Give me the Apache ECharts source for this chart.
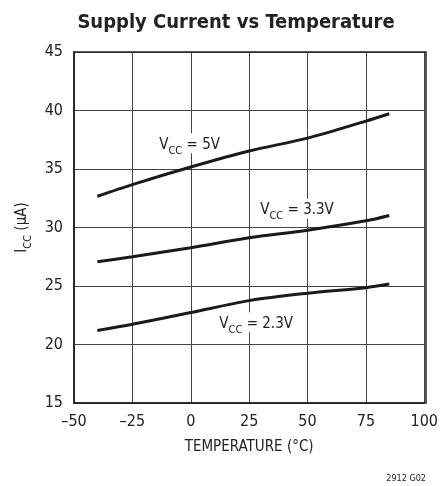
<!DOCTYPE html>
<html>
<head>
<meta charset="utf-8">
<script src="https://cdn.jsdelivr.net/npm/echarts@6/dist/echarts.min.js"></script>
<style>
html,body{margin:0;padding:0;background:#fff;}
#c{width:441px;height:486px;}
</style>
</head>
<body>
<div id="c"></div>
<script>
var temps = [-40, -25, 0, 25, 50, 75, 85];
var vcc5 = [32.67, 33.67, 35.17, 36.54, 37.64, 39.09, 39.72];
var vcc33 = [27.07, 27.5, 28.27, 29.12, 29.77, 30.57, 31.03];
var vcc23 = [21.2, 21.73, 22.73, 23.75, 24.38, 24.86, 25.17];
var xTicks = [-50, -25, 0, 25, 50, 75, 100];
var yTicks = [15, 20, 25, 30, 35, 40, 45];
var labels = [
  {name: '5V', at: [-0.5, 37.2]},
  {name: '3.3V', at: [45.5, 31.6]},
  {name: '2.3V', at: [28, 21.9]}
];

var FONT = '"DejaVu Sans Condensed", "Liberation Sans Narrow", sans-serif';

function pairs(ys){ return temps.map(function(t,i){ return [t, ys[i]]; }); }

var richSub = {
  a: {fontFamily: FONT, fontSize: 15, color: '#222', lineHeight: 18, verticalAlign: 'bottom'},
  b: {fontFamily: FONT, fontSize: 11, color: '#222', lineHeight: 12, verticalAlign: 'bottom', padding: [0,0,-4,0]}
};

function labelPoint(l){
  return {
    coord: l.at,
    symbol: 'rect',
    symbolSize: 1,
    itemStyle: {color: 'rgba(0,0,0,0)'},
    label: {
      show: true,
      position: 'inside',
      formatter: '{a|V}{b|CC}{a| = ' + l.name + '}',
      backgroundColor: '#fff',
      padding: [1, 2],
      rich: richSub
    }
  };
}

var seriesData = [vcc5, vcc33, vcc23];
var series = seriesData.map(function(ys, i){
  return {
    type: 'line',
    data: pairs(ys),
    smooth: 0.3,
    showSymbol: false,
    lineStyle: {color: '#1a1a1a', width: 3},
    z: 3,
    markPoint: {
      silent: true,
      data: [labelPoint(labels[i])],
      z: 5
    }
  };
});

var chart = echarts.init(document.getElementById('c'));
chart.setOption({
  animation: false,
  backgroundColor: '#fff',
  title: {
    text: 'Supply Current vs Temperature',
    left: 231, top: 8, textAlign: 'center',
    textStyle: {fontFamily: FONT, fontWeight: 'bold', fontSize: 20, color: '#222'}
  },
  grid: {left: 74, right: 15, top: 52, bottom: 83},
  xAxis: {
    type: 'value', min: -50, max: 100, interval: 25,
    name: 'TEMPERATURE (°C)', nameLocation: 'middle', nameGap: 37,
    nameTextStyle: {fontFamily: FONT, fontSize: 15, color: '#222'},
    axisLine: {show: true, onZero: false, lineStyle: {color: '#222', width: 1.5}},
    axisTick: {show: false},
    axisLabel: {fontFamily: FONT, fontSize: 16, color: '#222', margin: 11,
      formatter: function(v){ return xTicks.indexOf(v) >= 0 ? String(v).replace('-', '\u2013') : ''; }},
    splitLine: {show: true, lineStyle: {color: '#444', width: 1}}
  },
  yAxis: {
    type: 'value', min: 15, max: 45, interval: 5,
    name: '{a|I}{b|CC}{a| (μA)}', nameLocation: 'middle', nameGap: 44, nameRotate: 90,
    nameTextStyle: {rich: richSub},
    axisLine: {show: true, onZero: false, lineStyle: {color: '#222', width: 1.5}},
    axisTick: {show: false},
    axisLabel: {fontFamily: FONT, fontSize: 16, color: '#222', margin: 11,
      formatter: function(v){ return yTicks.indexOf(v) >= 0 ? String(v) : ''; }},
    splitLine: {show: true, lineStyle: {color: '#444', width: 1}}
  },
  graphic: [
    {type: 'rect', shape: {x: 74, y: 52, width: 352, height: 351}, style: {fill: 'none', stroke: '#222', lineWidth: 1.5}, z: 10, silent: true},
    {type: 'text', right: 15, top: 474, style: {text: '2912 G02', fontFamily: FONT, fontSize: 9, fill: '#222'}}
  ],
  series: series
});
</script>
</body>
</html>
